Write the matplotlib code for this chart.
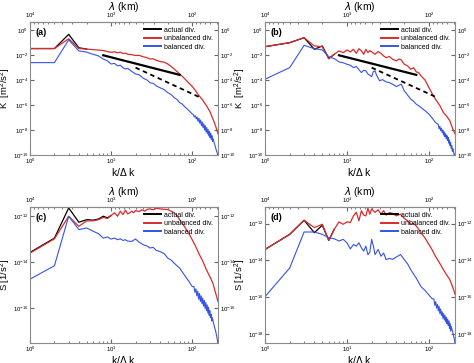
import numpy as np
import matplotlib
matplotlib.use('Agg')
import matplotlib.pyplot as plt
from matplotlib.ticker import LogLocator, NullLocator

plt.rcParams['font.family'] = ['Liberation Sans', 'DejaVu Sans']
plt.rcParams['mathtext.fontset'] = 'custom'
plt.rcParams['mathtext.rm'] = 'Liberation Sans'

RED = '#dc2a2a'
BLUE = '#3553e6'

# ---- panel (a): K spectra, case 1 (log10 values) ----
k_black_a = [1, 2, 3, 4, 5]
black_a = [-1.46, -1.46, -0.32, -1.40, -1.50]

k_red_a = [1, 2, 3, 4, 5, 6, 7, 8, 9, 10, 11, 12, 13, 14, 15, 16, 18, 20, 22, 25,
           28, 30, 33, 36, 40, 45, 50, 55, 60, 70, 80, 90, 100, 110, 120, 135, 150, 165, 180, 195,
           208]
red_a = [-1.46, -1.46, -0.67, -1.46, -1.50, -1.55, -1.58, -1.62, -1.70, -1.76, -1.72, -1.80, -1.75, -1.85, -1.83, -1.92, -1.95, -2.02, -2.00, -2.12,
         -2.20, -2.30, -2.28, -2.40, -2.50, -2.55, -2.70, -2.90, -3.10, -3.50, -3.85, -4.20, -4.50, -4.85, -5.20, -5.60, -6.05, -6.50, -7.10, -7.70,
         -8.30]

k_blue_a = [1, 2, 3, 4, 5, 6, 7, 8, 9, 10, 11, 12, 13, 14, 15, 16, 18, 20, 22, 25,
            28, 30, 33, 36, 40, 45, 50, 55, 60, 65, 70, 75, 80, 90, 100,
            103, 106, 109, 112, 115, 118, 121, 124, 127, 130, 133, 136, 139, 142, 145, 148, 151, 154, 157, 160,
            163, 166, 169, 172, 175, 178, 181, 190, 200, 208]
blue_a = [-2.59, -2.59, -0.77, -1.65, -1.75, -1.92, -2.05, -2.30, -2.45, -2.70, -2.65, -2.85, -2.80, -3.00, -3.10, -3.05, -3.30, -3.50, -3.55, -3.85,
          -4.00, -4.20, -4.25, -4.45, -4.60, -4.75, -5.00, -5.15, -5.40, -5.55, -5.80, -5.90, -6.10, -6.40, -6.70,
          -6.75, -6.95, -6.85, -7.10, -6.95, -7.30, -7.05, -7.45, -7.20, -7.65, -7.35, -7.80, -7.50, -8.00, -7.65, -8.15, -7.80, -8.30, -7.95, -8.45,
          -8.10, -8.60, -8.25, -8.75, -8.45, -8.90, -8.70, -9.20, -9.70, -10.0]

# ---- panel (b): K spectra, case 2 ----
k_black_b = [1, 2, 3, 4, 5, 6, 7]
black_b = [-1.31, -0.99, -0.59, -1.52, -1.25, -2.27, -1.92]

k_red_b = [1, 2, 3, 4, 5, 6, 7, 8, 9, 10, 11, 12, 13, 14, 15, 16, 17, 18, 19, 20,
           22, 24, 26, 28, 30, 33, 36, 40, 43, 46, 50, 55, 60, 65, 70, 75, 80, 90, 100, 110,
           120, 135, 150, 165, 180, 195, 208]
red_b = [-1.31, -0.99, -0.59, -1.25, -1.31, -2.27, -1.92, -1.65, -1.79, -1.57, -1.73, -1.52, -1.84, -1.47, -1.65, -1.92, -1.52, -1.79, -1.62, -1.73,
         -1.92, -1.70, -1.85, -2.05, -2.19, -2.10, -2.32, -2.45, -2.30, -2.37, -2.72, -2.85, -3.12, -3.00, -3.33, -3.40, -3.65, -4.00, -4.59, -5.10,
         -5.52, -6.00, -6.59, -6.90, -7.25, -7.90, -8.30]

k_blue_b = [1, 2, 3, 4, 5, 6, 7, 8, 9, 10, 11, 12, 13, 14, 15, 16, 17, 18, 19, 20,
            21, 22, 23, 25, 27, 30, 33, 36, 40, 43, 46, 50, 55, 60, 65, 70, 75, 80, 90, 100,
            110, 120, 130, 133, 136, 139, 142, 145, 148, 151, 154, 157, 160, 163, 166, 169, 172, 175, 178, 181,
            184, 187, 190, 193, 196, 202, 208]
blue_b = [-3.92, -2.99, -1.20, -1.47, -1.57, -2.11, -2.27, -2.53, -2.60, -2.72, -2.80, -2.99, -2.90, -3.15, -3.39, -3.20, -3.25, -3.50, -3.60, -3.71,
          -3.30, -3.25, -3.60, -4.05, -3.95, -4.13, -4.20, -4.32, -4.51, -4.40, -4.32, -4.85, -5.20, -5.52, -5.70, -5.92, -6.05, -6.19, -6.45, -6.72,
          -7.05, -7.39, -7.55, -7.90, -7.70, -8.05, -7.85, -8.20, -8.00, -8.40, -8.15, -8.55, -8.30, -8.70, -8.45, -8.85, -8.60, -9.05, -8.80, -9.25,
          -9.00, -9.45, -9.25, -9.70, -9.50, -9.90, -10.2]

k_ref_solid = [8, 70]
ref_solid = [-2.0, -3.57]
k_ref_dash = [20, 123]
ref_dash = [-2.99, -5.36]

# ---- panel (c): S spectra, case 1 ----
k_black_c = [1, 2, 3, 4, 5, 6, 7, 8, 9, 10]
black_c = [-13.57, -12.95, -11.64, -12.26, -12.15, -12.17, -12.12, -12.00, -12.07, -11.97]

k_red_c = [1, 2, 3, 4, 5, 6, 7, 8, 9, 10, 11, 12, 13, 14, 15, 16, 17, 18, 19, 20,
           22, 24, 26, 28, 30, 33, 36, 40, 45, 50, 55, 60, 65, 70, 80, 90, 100, 110, 120, 135,
           150, 165, 180, 195, 208]
red_c = [-13.60, -12.98, -12.00, -12.44, -12.20, -12.20, -12.15, -12.05, -12.10, -11.97, -11.85, -12.00, -11.78, -11.93, -11.74, -11.90, -11.85, -11.78, -11.85, -11.75,
         -11.80, -11.72, -11.78, -11.70, -11.68, -11.72, -11.66, -11.68, -11.70, -11.71, -11.78, -11.85, -11.98, -12.15, -12.44, -12.72, -13.02, -13.30, -13.60, -13.95,
         -14.33, -14.62, -14.91, -15.35, -15.70]

k_blue_c = [1, 2, 3, 4, 5, 6, 7, 8, 9, 10, 11, 12, 13, 14, 15, 16, 18, 20, 22, 25,
            28, 30, 33, 36, 40, 45, 50, 55, 60, 65, 70, 80, 90, 100,
            105, 108, 111, 114, 117, 120, 123, 126, 129, 132, 135, 138, 141, 144, 147, 150, 153, 156, 159, 162,
            165, 168, 171, 174, 177, 185, 195, 208]
blue_c = [-14.73, -14.15, -12.00, -12.58, -12.51, -12.65, -12.76, -12.95, -12.90, -12.99, -12.95, -13.02, -12.98, -13.05, -13.02, -13.08, -13.09, -12.99, -13.12, -13.24,
          -13.30, -13.38, -13.35, -13.48, -13.53, -13.62, -13.82, -13.90, -14.04, -14.15, -14.25, -14.55, -14.80, -15.05,
          -15.05, -15.30, -15.15, -15.45, -15.25, -15.60, -15.35, -15.70, -15.45, -15.80, -15.55, -15.90, -15.65, -16.00, -15.75, -16.10, -15.85, -16.20, -15.95, -16.30,
          -16.10, -16.40, -16.25, -16.55, -16.40, -16.70, -17.00, -17.50]

# ---- panel (d): S spectra, case 2 ----
k_black_d = [1, 2, 3, 4, 5, 6, 7]
black_d = [-13.41, -12.59, -11.82, -12.50, -12.09, -12.92, -12.31]

k_red_d = [1, 2, 3, 4, 5, 6, 7, 8, 9, 10, 11, 12, 13, 14, 15, 16, 17, 18, 19, 20,
           22, 24, 26, 28, 30, 33, 36, 40, 45, 50, 55, 60, 65, 70, 80, 90, 100, 110, 120, 135,
           150, 165, 180, 195, 208]
red_d = [-13.41, -12.59, -11.82, -12.22, -12.04, -12.92, -12.31, -11.91, -12.04, -11.91, -11.94, -11.58, -11.39, -11.85, -11.30, -11.54, -11.58, -11.17, -11.49, -11.21,
         -11.39, -11.25, -11.49, -11.30, -11.54, -11.40, -11.45, -11.58, -11.49, -11.72, -11.85, -12.04, -12.00, -12.13, -12.50, -12.80, -13.14, -13.45, -13.78, -14.15,
         -14.51, -14.80, -15.06, -15.45, -15.85]

k_blue_d = [1, 2, 3, 4, 5, 6, 7, 8, 9, 10, 11, 12, 13, 14, 15, 16, 17, 18, 19, 20,
            21, 22, 24, 26, 28, 30, 33, 36, 40, 45, 50, 55, 60, 65, 70, 80, 90, 100, 110,
            115, 118, 121, 124, 127, 130, 133, 136, 139, 142, 145, 148, 151, 154, 157, 160,
            163, 166, 169, 172, 175, 178, 181, 184, 187, 195, 202, 208]
blue_d = [-15.98, -14.42, -12.46, -12.46, -12.59, -12.77, -12.83, -12.95, -12.86, -13.05, -13.38, -13.14, -13.23, -13.05, -13.32, -13.50, -13.23, -13.69, -13.56, -12.86,
          -13.23, -13.69, -13.41, -13.78, -13.60, -13.96, -13.90, -13.95, -13.82, -13.69, -13.96, -14.20, -14.51, -14.75, -14.97, -15.43, -15.65, -15.89, -16.10,
          -16.10, -16.45, -16.25, -16.60, -16.40, -16.75, -16.50, -16.90, -16.65, -17.00, -16.80, -17.15, -16.90, -17.25, -17.00, -17.35,
          -17.10, -17.45, -17.20, -17.55, -17.30, -17.70, -17.45, -17.85, -17.60, -17.90, -18.20, -18.45]

labels = ['actual div.', 'unbalanced div.', 'balanced div.']
x_range = (1, 208)

TICK_FS = 4.3
XLABEL_FS = 7.5
YLABEL_FS = 6.8


def lam(k):
    return 1e4 / k


def panel(ax, tag, kb, vb, kr, vr, kbl, vbl, ylog, yticks, ylabel, refs=False):
    ax.plot(kb, 10.0 ** np.array(vb), color='black', lw=0.9, label=labels[0])
    ax.plot(kr, 10.0 ** np.array(vr), color=RED, lw=0.9, label=labels[1])
    ax.plot(kbl, 10.0 ** np.array(vbl), color=BLUE, lw=0.8, label=labels[2])
    if refs:
        ax.plot(k_ref_solid, 10.0 ** np.array(ref_solid), color='black', lw=1.6)
        ax.plot(k_ref_dash, 10.0 ** np.array(ref_dash), color='black', lw=1.3, ls=(0, (2.5, 2)))
    ax.set_xscale('log')
    ax.set_yscale('log')
    ax.set_xlim(*x_range)
    ax.set_ylim(10.0 ** ylog[0], 10.0 ** ylog[1])
    ax.set_yticks([10.0 ** t for t in yticks])
    ax.yaxis.set_minor_locator(NullLocator())
    ax.xaxis.set_minor_locator(LogLocator(base=10, subs=np.arange(2, 10)))
    ax.tick_params(which='both', direction='in', labelsize=TICK_FS, right=True, labelright=True,
                   pad=1.2, color='#666666')
    ax.tick_params(which='major', length=3)
    ax.tick_params(which='minor', length=1.5)
    for s in ax.spines.values():
        s.set_color('#8a8a8a')
        s.set_linewidth(0.8)
    ax.set_xlabel(r'k/$\Delta$ k', fontsize=XLABEL_FS, labelpad=0)
    ax.set_ylabel(ylabel, fontsize=YLABEL_FS, labelpad=0)
    ax.text(0.03, 0.955, tag, transform=ax.transAxes, fontsize=6.5, fontweight='bold',
            va='top', ha='left')
    leg = ax.legend(loc='upper right', fontsize=5, frameon=False, handlelength=2.4,
                    borderaxespad=0.3, labelspacing=0.2, handletextpad=0.5)
    for h in leg.get_lines():
        h.set_linewidth(1.4)
    top = ax.secondary_xaxis('top', functions=(lam, lam))
    top.set_xlabel(r'$\lambda$ (km)', fontsize=XLABEL_FS, labelpad=0.5)
    top.tick_params(which='both', direction='in', labelsize=TICK_FS, pad=1.2, color='#666666')
    top.tick_params(which='major', length=3)
    top.tick_params(which='minor', length=1.5)
    top.spines['top'].set_color('#8a8a8a')


fig = plt.figure(figsize=(4.74, 3.63), dpi=100)
W, H = 474.0, 363.0


def add_axes(l, r, t, b):
    return fig.add_axes([l / W, 1 - b / H, (r - l) / W, (b - t) / H])


ax_a = add_axes(30, 218, 22, 155)
ax_b = add_axes(265, 455, 22, 155)
ax_c = add_axes(30, 218, 207, 343)
ax_d = add_axes(265, 455, 207, 343)

K_label = r'K  [m$^2$/s$^2$]'
S_label = r'S [1/s$^2$]'
panel(ax_a, '(a)', k_black_a, black_a, k_red_a, red_a, k_blue_a, blue_a,
      (-10, 0.67), [0, -2, -4, -6, -8, -10], K_label, refs=True)
panel(ax_b, '(b)', k_black_b, black_b, k_red_b, red_b, k_blue_b, blue_b,
      (-10, 0.67), [0, -2, -4, -6, -8, -10], K_label, refs=True)
panel(ax_c, '(c)', k_black_c, black_c, k_red_c, red_c, k_blue_c, blue_c,
      (-17.5, -11.6), [-12, -14, -16], S_label)
panel(ax_d, '(d)', k_black_d, black_d, k_red_d, red_d, k_blue_d, blue_d,
      (-18.5, -11.1), [-12, -14, -16, -18], S_label)

fig.savefig('out.png', dpi=100)
